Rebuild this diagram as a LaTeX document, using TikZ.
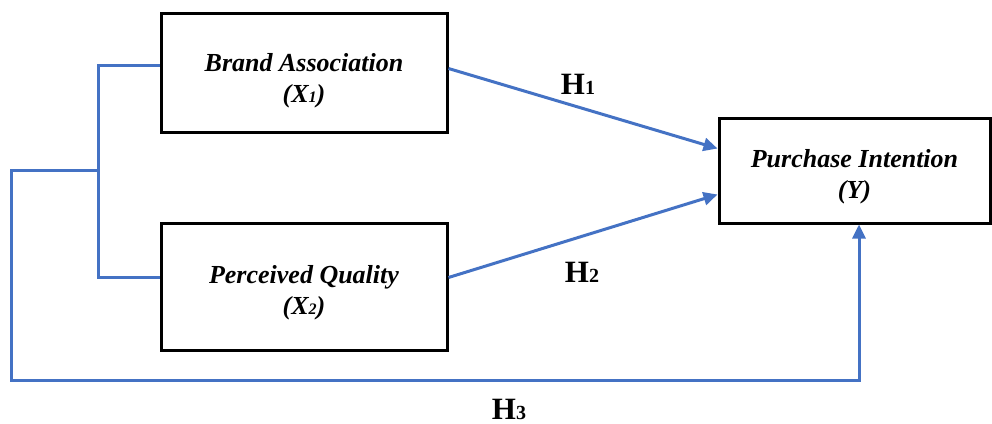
\documentclass[tikz,border=0pt]{standalone}
\usepackage{fontspec}
\setmainfont{Liberation Serif}
\usetikzlibrary{arrows.meta}
\definecolor{lnblue}{HTML}{4472C4}
\begin{document}
\begin{tikzpicture}[x=1pt,y=-1pt,
  box/.style={draw=black, line width=3pt, fill=white, align=center, inner sep=0pt,
    font=\fontsize{26}{31}\selectfont\bfseries\itshape},
  conn/.style={draw=lnblue, line width=3pt},
  arr/.style={conn, -{Triangle[length=14pt,width=13pt]}},
  hlab/.style={anchor=base, inner sep=0pt, font=\fontsize{31}{31}\selectfont\bfseries}]
\useasboundingbox (0,0) rectangle (992,423);
\node[box, minimum width=286pt, minimum height=119pt] (ba) at (304,72.5) {\rule{0pt}{34pt}Brand Association\\(X{\fontsize{16}{16}\selectfont 1})};
\node[box, minimum width=286pt, minimum height=127pt] (pq) at (304,286.5) {\rule{0pt}{30pt}Perceived Quality\\(X{\fontsize{16}{16}\selectfont 2})};
\node[box, minimum width=271pt, minimum height=105pt] (pi) at (854.5,170.5) {\rule{0pt}{30pt}Purchase Intention\\(Y)};
\coordinate (jm) at (98,170);
\coordinate (c1) at (11,380);
\draw[conn] ([yshift=7pt]ba.west) -| (jm) |- ([yshift=9pt]pq.west);
\draw[arr] (jm) -| (c1) -| ([xshift=4.5pt]pi.south);
\draw[arr] ([yshift=4pt]ba.east) -- ([yshift=22pt]pi.west);
\draw[arr] ([yshift=9pt]pq.east) -- ([yshift=-24pt]pi.west);
\node[hlab] (h1) at (578,94) {H{\fontsize{20}{20}\selectfont 1}};
\node[hlab] (h2) at (582,282) {H{\fontsize{20}{20}\selectfont 2}};
\node[hlab] (h3) at (509,419) {H{\fontsize{20}{20}\selectfont 3}};
\end{tikzpicture}
\end{document}
